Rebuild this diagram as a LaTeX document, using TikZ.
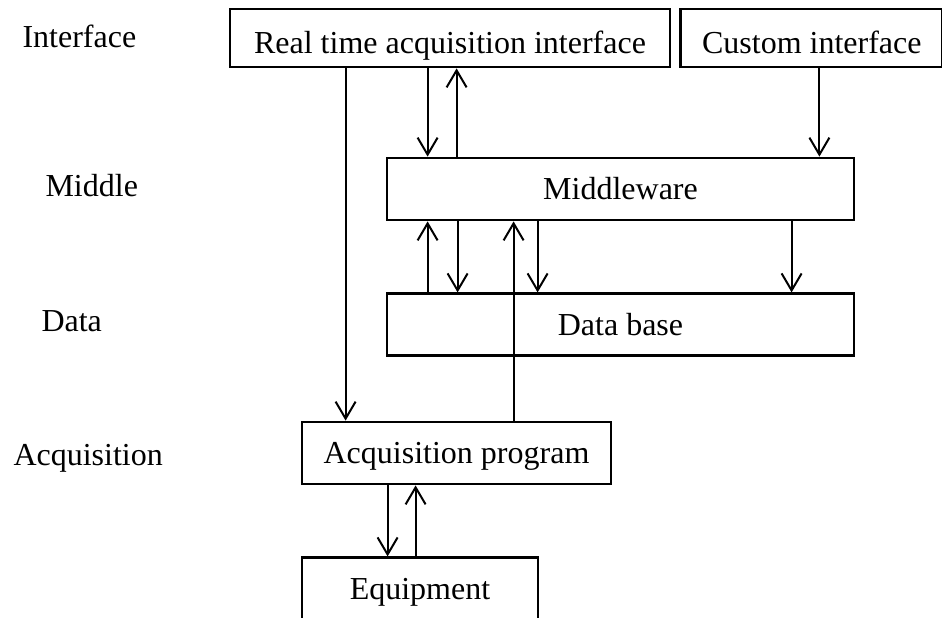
\documentclass[tikz,border=0pt]{standalone}
\usepackage{fontspec}
\setmainfont{Liberation Serif}
\usepackage{tikz}
\usetikzlibrary{arrows.meta, positioning}

\begin{document}
\begin{tikzpicture}[x=1pt, y=-1pt, font=\fontsize{32}{38}\selectfont,
    box/.style={rectangle, draw, line width=2.8pt, inner sep=0pt, text height=21pt, text depth=0pt},
    lower/.style={text height=32pt},
    arr/.style={-{Straight Barb[length=17pt, width=20pt]}, line width=2pt}]
    \useasboundingbox (0,0) rectangle (942,618);

    \node (Interface) [anchor=base west] at (19,48) {Interface};
    \node (Middle) [anchor=base west] at (42,196) {Middle};
    \node (Data) [anchor=base west] at (38,331) {Data};
    \node (Acquisition) [anchor=base west] at (10,465) {Acquisition};

    \node (RealTime) [box, lower, minimum width=440pt, minimum height=58pt] at (450,38) {Real time acquisition interface};
    \node (Custom) [box, lower, minimum width=262pt, minimum height=58pt, right=8pt of RealTime] {Custom interface};

    \node (Middleware) [box, minimum width=467pt, minimum height=62pt] at (620.5,189) {Middleware};
    \node (DataBase) [box, minimum width=467pt, minimum height=62pt, below=71pt of Middleware] {Data base};

    \node (AcqProg) [box, minimum width=309pt, minimum height=62pt] at (456.5,453) {Acquisition program};
    \node (Equipment) [box, minimum width=236pt, minimum height=62pt, below=71pt of AcqProg.south west, anchor=north west] {Equipment};

    \draw[arr] ([xshift=117pt]RealTime.south west) -- ([xshift=117pt]RealTime.south west |- AcqProg.north);
    \draw[arr] ([xshift=199pt]RealTime.south west) -- ([xshift=199pt]RealTime.south west |- Middleware.north);
    \draw[arr] ([xshift=71pt]Middleware.north west) -- ([xshift=71pt]Middleware.north west |- RealTime.south);
    \draw[arr] ([xshift=140pt]Custom.south west) -- ([xshift=140pt]Custom.south west |- Middleware.north);

    \draw[arr] ([xshift=42pt]DataBase.north west) -- ([xshift=42pt]DataBase.north west |- Middleware.south);
    \draw[arr] ([xshift=72pt]Middleware.south west) -- ([xshift=72pt]Middleware.south west |- DataBase.north);
    \draw[arr] ([xshift=213pt]AcqProg.north west) -- ([xshift=213pt]AcqProg.north west |- Middleware.south);
    \draw[arr] ([xshift=152pt]Middleware.south west) -- ([xshift=152pt]Middleware.south west |- DataBase.north);
    \draw[arr] ([xshift=406pt]Middleware.south west) -- ([xshift=406pt]Middleware.south west |- DataBase.north);

    \draw[arr] ([xshift=87pt]AcqProg.south west) -- ([xshift=87pt]AcqProg.south west |- Equipment.north);
    \draw[arr] ([xshift=115pt]Equipment.north west) -- ([xshift=115pt]Equipment.north west |- AcqProg.south);

\end{tikzpicture}
\end{document}
